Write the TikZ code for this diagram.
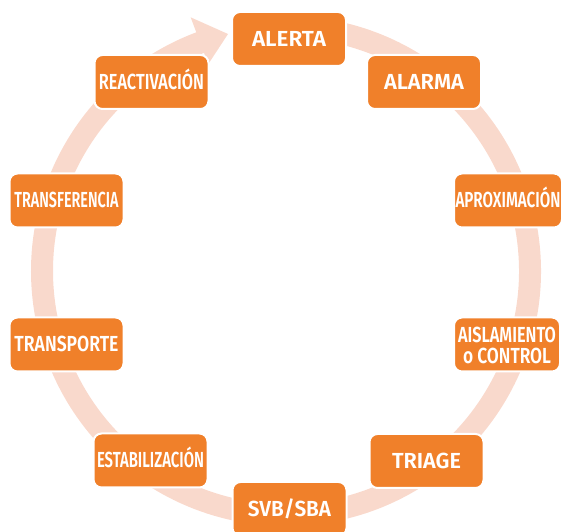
\documentclass[tikz,border=0pt]{standalone}
\usepackage{fontspec}
\setmainfont{Fira Sans}[BoldFont={Fira Sans SemiBold}]
\usepackage{graphicx}
\definecolor{ringc}{HTML}{F9D9CC}
\definecolor{orangec}{HTML}{F0802A}
\newcommand\lb[2]{\resizebox{#1pt}{\height}{#2}}
\begin{document}
\begin{tikzpicture}[x=1pt,y=1pt,
  box/.style={fill=orangec, draw=white, line width=2pt, rounded corners=8pt,
    minimum width=114pt, minimum height=54pt, inner sep=0pt, text=white,
    font=\fontsize{21.8}{21}\selectfont\bfseries, text height=15pt, text depth=0pt},
  txt/.style={inner sep=0pt, text=white,
    font=\fontsize{21.8}{21}\selectfont\bfseries, text height=15pt, text depth=0pt},
  ringline/.style={draw=ringc, line width=22pt}]
\useasboundingbox (0,0) rectangle (562,532);
\clip (0,0) rectangle (562,532);
\begin{scope}[shift={(286,261)}]
  \draw[ringline] (95:244) arc[start angle=95, end angle=-249.6, radius=244];
  \fill[ringc] (103.75:244) -- (110.6:271) -- (110.6:221) -- cycle;
\end{scope}
\node[box] (alerta) at (289,493) {\lb{74}{ALERTA}};
\node[box] (alarma) at (424,450) {\lb{80}{ALARMA}};
\node[box, minimum width=108pt] (aprox) at (508,331.5) {\lb{105}{APROXIMACIÓN}};
\node[box, minimum width=106pt] (aisl) at (507,187.5) {};
\node[txt] (aisl1) at ([yshift=9.5]aisl.center) {\lb{98}{AISLAMIENTO}};
\node[txt] (aisl2) at ([yshift=-11.5]aisl.center) {\lb{88}{o CONTROL}};
\node[box] (triage) at (426.5,71) {\lb{69}{TRIAGE}};
\node[box] (svb) at (289.5,23) {\lb{83}{SVB/SBA}};
\node[box] (estab) at (150.5,71.5) {\lb{107}{ESTABILIZACIÓN}};
\node[box] (transp) at (66.5,187.5) {\lb{104}{TRANSPORTE}};
\node[box] (transf) at (66.5,331.5) {\lb{104}{TRANSFERENCIA}};
\node[box] (react) at (151.5,450) {\lb{105}{REACTIVACIÓN}};
\end{tikzpicture}
\end{document}
